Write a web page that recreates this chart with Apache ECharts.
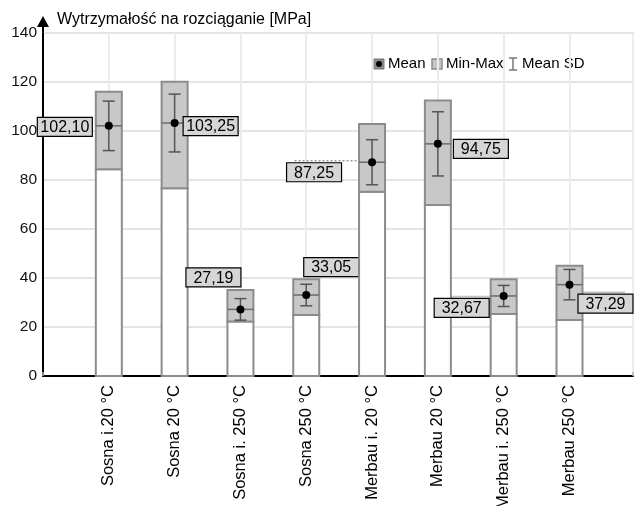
<!DOCTYPE html>
<html><head><meta charset="utf-8">
<script src="https://cdn.jsdelivr.net/npm/echarts@6/dist/echarts.min.js"></script>
<style>html,body{margin:0;padding:0;background:#fff}#c{width:635px;height:506px}</style>
</head><body><div id="c"></div>
<script>
// ---- data ----
const categories = ['Sosna i.20 °C','Sosna 20 °C','Sosna i. 250 °C','Sosna 250 °C','Merbau i. 20 °C','Merbau 20 °C','Merbau i. 250 °C','Merbau 250 °C'];
const meanValues = [102.10, 103.25, 27.19, 33.05, 87.25, 94.75, 32.67, 37.29];
const minValues  = [84.4, 76.6, 22.2, 24.9, 75.2, 69.8, 25.3, 22.9];
const maxValues  = [116.0, 120.1, 35.1, 39.5, 102.9, 112.4, 39.5, 45.0];
const sdValues   = [10.1, 11.8, 4.4, 4.4, 9.2, 13.1, 4.3, 6.2];
const yTicks = [0, 20, 40, 60, 80, 100, 120, 140];
const yTitle = 'Wytrzymałość na rozciąganie [MPa]';
const legendNames = ['Mean', 'Min-Max', 'Mean SD'];

// ---- label layout (style config: offsets of label centre from the mean point, px) ----
const labelOffsets = [[-44,1],[36,3],[-27,-32],[25,-28],[-58,10],[43,5],[-42,12],[36,19]];
const leaderStyle = [null,null,null,null,'dotted',null,'solid','solid'];

const FONT = '"Liberation Sans", Arial, sans-serif';
const fmt = v => v.toFixed(2).replace('.', ',');

function renderItem(params, api) {
  const i = params.dataIndex;
  const xv = api.value(0), mean = api.value(1), mn = api.value(2), mx = api.value(3), sd = api.value(4);
  const p0 = api.coord([xv, 0]);
  const cx = p0[0], y0 = p0[1];
  const yMin = api.coord([xv, mn])[1], yMax = api.coord([xv, mx])[1];
  const yMean = api.coord([xv, mean])[1];
  const yHi = api.coord([xv, mean + sd])[1], yLo = api.coord([xv, mean - sd])[1];
  const w = 26, cap = 12;
  const ch = [
    {type:'rect', shape:{x:cx-w/2, y:yMin, width:w, height:y0-yMin}, style:{fill:'#fff', stroke:'#8c8c8c', lineWidth:2}},
    {type:'rect', shape:{x:cx-w/2, y:yMax, width:w, height:yMin-yMax}, style:{fill:'#c8c8c8', stroke:'#8c8c8c', lineWidth:2}},
    {type:'line', shape:{x1:cx-w/2, y1:yMean, x2:cx+w/2, y2:yMean}, style:{stroke:'#6a6a6a', lineWidth:1.5}},
    {type:'line', shape:{x1:cx, y1:yHi, x2:cx, y2:yLo}, style:{stroke:'#555', lineWidth:1.5}},
    {type:'line', shape:{x1:cx-cap/2, y1:yHi, x2:cx+cap/2, y2:yHi}, style:{stroke:'#555', lineWidth:1.5}},
    {type:'line', shape:{x1:cx-cap/2, y1:yLo, x2:cx+cap/2, y2:yLo}, style:{stroke:'#555', lineWidth:1.5}},
    {type:'circle', shape:{cx:cx, cy:yMean, r:4}, style:{fill:'#000'}}
  ];
  const off = labelOffsets[i];
  const lw = 55, lh = 19;
  const lx = cx + off[0] - lw/2, ly = yMean + off[1] - lh/2;
  if (leaderStyle[i]) {
    const barEdge = off[0] < 0 ? cx - w/2 : cx + w/2;
    let a = lx + 8, b = lx + lw - 8;
    a = Math.min(a, barEdge); b = Math.max(b, barEdge);
    ch.push({type:'line', z2:-1, shape:{x1:a, y1:ly-2, x2:b, y2:ly-2},
      style:{stroke: leaderStyle[i]==='dotted' ? '#9a9a9a' : '#c4c4c4', lineWidth:1.5,
             lineDash: leaderStyle[i]==='dotted' ? [2,2] : null}});
  }
  ch.push({type:'rect', shape:{x:lx, y:ly, width:lw, height:lh}, style:{fill:'#d6d6d6', stroke:'#000', lineWidth:1.2}});
  ch.push({type:'text', style:{text:fmt(mean), x:lx+lw/2, y:ly+lh/2+1, align:'center', verticalAlign:'middle', fill:'#000', font:'16px ' + FONT}});
  return {type:'group', children: ch};
}

const chart = echarts.init(document.getElementById('c'), null, {renderer:'canvas'});
const legendY = 64;
chart.setOption({
  backgroundColor:'#fff',
  animation:false,
  textStyle:{fontFamily:FONT},
  grid:{left:43, right:2, top:33, bottom:130, containLabel:false, outerBoundsMode:'none',
        show:true, borderColor:'#a8a8a8', borderWidth:1.5, backgroundColor:'transparent'},
  xAxis:{
    type:'value', min:0, max:8.965, interval:1,
    axisLine:{show:true, onZero:false, lineStyle:{color:'#000', width:2}},
    axisTick:{show:true, inside:true, length:4, lineStyle:{color:'#b0b0b0', width:1.5}},
    splitLine:{show:true, lineStyle:{color:'#ececec', width:2}},
    axisLabel:{rotate:90, margin:9, color:'#000', fontSize:16.5, fontFamily:FONT,
      formatter: v => (Math.abs(v - Math.round(v)) < 1e-6 && Math.round(v) >= 1 && Math.round(v) <= categories.length) ? categories[Math.round(v)-1] : ''}
  },
  yAxis:{
    type:'value', min:yTicks[0], max:yTicks[yTicks.length-1], interval:yTicks[1]-yTicks[0],
    axisLine:{show:true, lineStyle:{color:'#000', width:2}},
    axisTick:{show:false},
    splitLine:{show:true, lineStyle:{color:'#e4e4e4', width:2}},
    axisLabel:{color:'#111', fontSize:15.5, fontFamily:FONT, margin:6}
  },
  graphic:[
    {type:'line', shape:{x1:43, y1:34, x2:43, y2:25}, style:{stroke:'#000', lineWidth:2}},
    {type:'polygon', shape:{points:[[37,27],[49,27],[43,16]]}, style:{fill:'#000'}},
    {type:'text', style:{text:yTitle, x:57, y:20, verticalAlign:'middle', fill:'#000', font:'16px ' + FONT}},
    // legend
    {type:'rect', shape:{x:374, y:legendY-5, width:10, height:10}, style:{fill:'#8c8c8c', stroke:'#777', lineWidth:1}},
    {type:'circle', shape:{cx:379, cy:legendY, r:3}, style:{fill:'#000'}},
    {type:'text', style:{text:legendNames[0], x:388, y:legendY, verticalAlign:'middle', fill:'#000', font:'15px ' + FONT}},
    {type:'rect', shape:{x:432, y:legendY-5, width:10, height:10}, style:{fill:'#c8c8c8', stroke:'#8c8c8c', lineWidth:1.5}},
    {type:'text', style:{text:legendNames[1], x:446, y:legendY, verticalAlign:'middle', fill:'#000', font:'15px ' + FONT}},
    {type:'line', shape:{x1:513, y1:legendY-6, x2:513, y2:legendY+6}, style:{stroke:'#777', lineWidth:1.5}},
    {type:'line', shape:{x1:509, y1:legendY-6, x2:517, y2:legendY-6}, style:{stroke:'#777', lineWidth:1.5}},
    {type:'line', shape:{x1:509, y1:legendY+6, x2:517, y2:legendY+6}, style:{stroke:'#777', lineWidth:1.5}},
    {type:'text', style:{text:legendNames[2], x:522, y:legendY, verticalAlign:'middle', fill:'#000', font:'15px ' + FONT}}
  ],
  series:[{
    type:'custom',
    clip:false,
    renderItem: renderItem,
    encode:{x:0, y:[1,2,3]},
    data: categories.map((c, i) => [i + 1, meanValues[i], minValues[i], maxValues[i], sdValues[i]])
  }]
});
</script></body></html>
